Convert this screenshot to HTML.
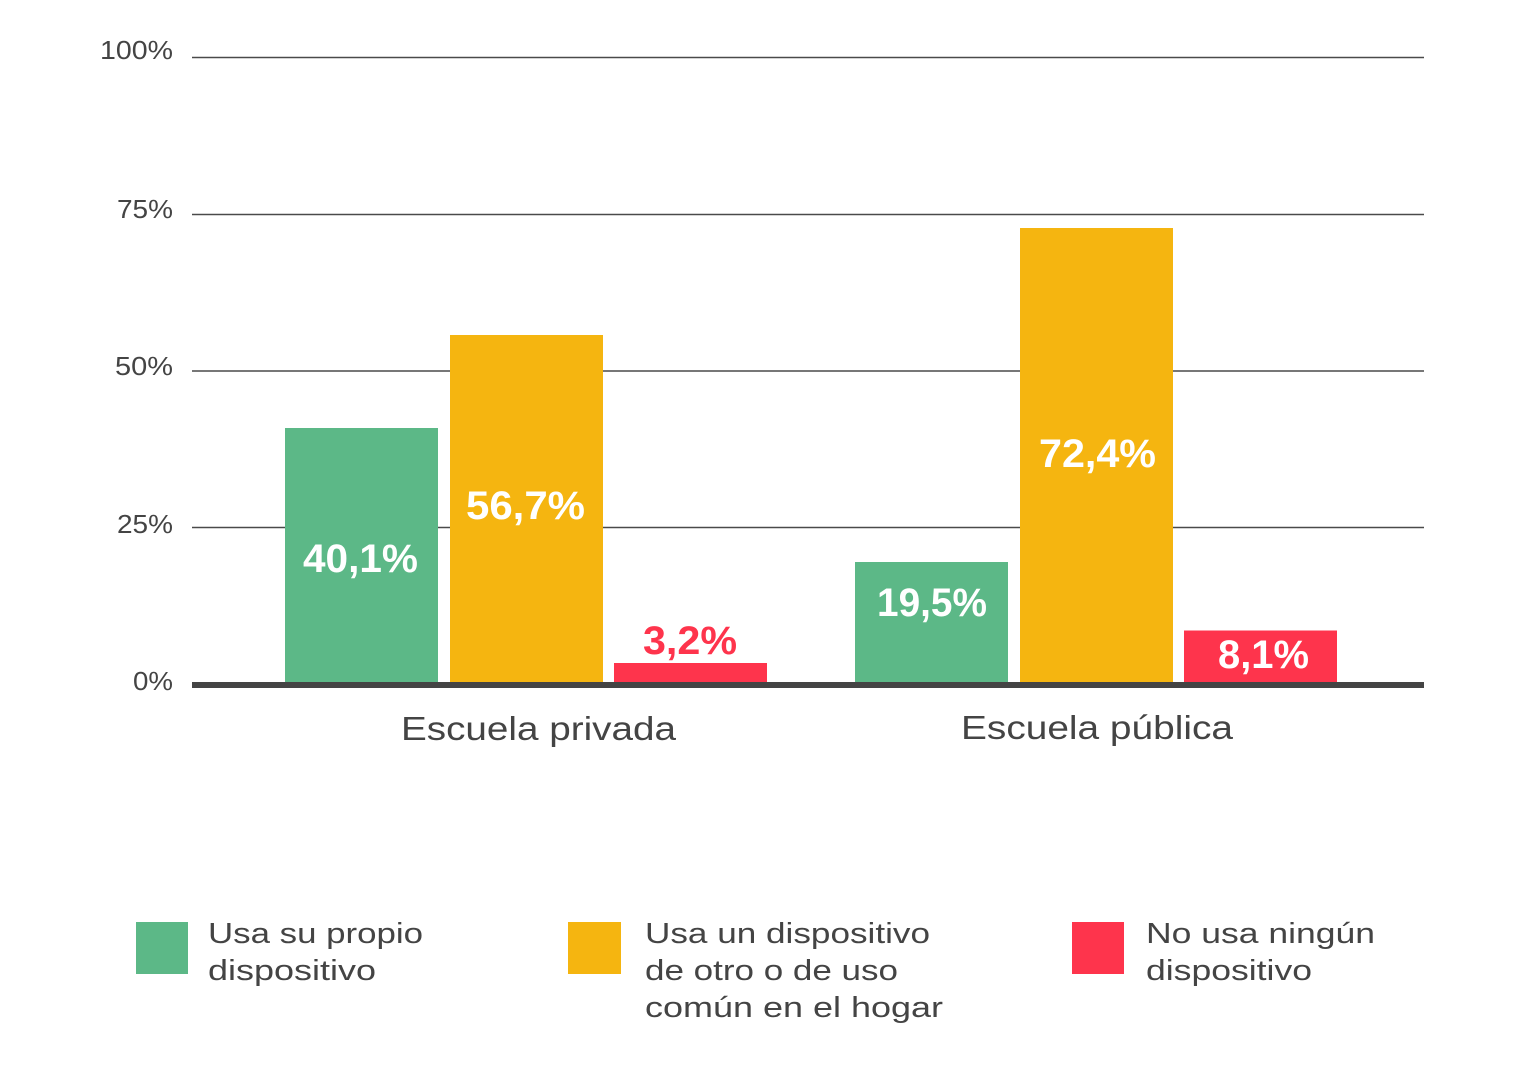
<!DOCTYPE html>
<html>
<head>
<meta charset="utf-8">
<style>
html,body{margin:0;padding:0;background:#fff;}
svg{display:block;}
text{font-family:"Liberation Sans",sans-serif;}
</style>
</head>
<body>
<svg width="1515" height="1087" viewBox="0 0 1515 1087" xmlns="http://www.w3.org/2000/svg">
<rect width="1515" height="1087" fill="#fff"/>
<!-- gridlines -->
<g stroke="#4a4a4a" stroke-width="1.6">
<line x1="192" y1="57.5" x2="1424" y2="57.5"/>
<line x1="192" y1="214.5" x2="1424" y2="214.5"/>
<line x1="192" y1="371" x2="1424" y2="371"/>
<line x1="192" y1="527.5" x2="1424" y2="527.5"/>
</g>
<!-- axis labels -->
<g fill="#444" font-size="26">
<text x="100" y="59" textLength="73" lengthAdjust="spacingAndGlyphs">100%</text>
<text x="117" y="218" textLength="56" lengthAdjust="spacingAndGlyphs">75%</text>
<text x="115" y="375" textLength="58" lengthAdjust="spacingAndGlyphs">50%</text>
<text x="117" y="533" textLength="56" lengthAdjust="spacingAndGlyphs">25%</text>
<text x="133" y="690" textLength="40" lengthAdjust="spacingAndGlyphs">0%</text>
</g>
<!-- bars -->
<rect x="285" y="428" width="153" height="256" fill="#5cb887"/>
<rect x="450" y="335" width="153" height="349" fill="#f5b510"/>
<rect x="614" y="663" width="153" height="21" fill="#fe344c"/>
<rect x="855" y="562" width="153" height="122" fill="#5cb887"/>
<rect x="1020" y="228" width="153" height="456" fill="#f5b510"/>
<rect x="1184" y="630.5" width="153" height="53.5" fill="#fe344c"/>
<!-- baseline -->
<rect x="192" y="682" width="1232" height="6" fill="#444"/>
<!-- value labels -->
<g font-size="40" font-weight="bold" fill="#fff">
<text x="303" y="572" textLength="115" lengthAdjust="spacingAndGlyphs">40,1%</text>
<text x="466" y="519" textLength="119" lengthAdjust="spacingAndGlyphs">56,7%</text>
<text x="877" y="616" textLength="110" lengthAdjust="spacingAndGlyphs">19,5%</text>
<text x="1039" y="467" textLength="117" lengthAdjust="spacingAndGlyphs">72,4%</text>
<text x="1218" y="668" textLength="91" lengthAdjust="spacingAndGlyphs">8,1%</text>
<text x="643" y="654" textLength="94" lengthAdjust="spacingAndGlyphs" fill="#fe344c">3,2%</text>
</g>
<!-- category labels -->
<g font-size="33" fill="#444">
<text x="401" y="740" textLength="275" lengthAdjust="spacingAndGlyphs">Escuela privada</text>
<text x="961" y="739" textLength="272" lengthAdjust="spacingAndGlyphs">Escuela pública</text>
</g>
<!-- legend -->
<rect x="136" y="922" width="52" height="52" fill="#5cb887"/>
<rect x="568" y="922" width="53" height="52" fill="#f5b510"/>
<rect x="1072" y="922" width="52" height="52" fill="#fe344c"/>
<g font-size="29" fill="#444">
<text x="208" y="943" textLength="215" lengthAdjust="spacingAndGlyphs">Usa su propio</text>
<text x="208" y="980" textLength="168" lengthAdjust="spacingAndGlyphs">dispositivo</text>
<text x="645" y="943" textLength="285" lengthAdjust="spacingAndGlyphs">Usa un dispositivo</text>
<text x="645" y="980" textLength="253" lengthAdjust="spacingAndGlyphs">de otro o de uso</text>
<text x="645" y="1017" textLength="298" lengthAdjust="spacingAndGlyphs">común en el hogar</text>
<text x="1146" y="943" textLength="229" lengthAdjust="spacingAndGlyphs">No usa ningún</text>
<text x="1146" y="980" textLength="166" lengthAdjust="spacingAndGlyphs">dispositivo</text>
</g>
</svg>
</body>
</html>
